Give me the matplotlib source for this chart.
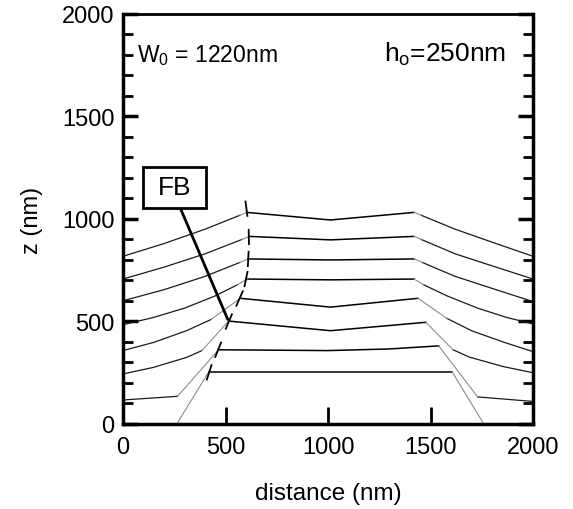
import matplotlib
matplotlib.use("Agg")
import matplotlib.pyplot as plt
from matplotlib.patches import Rectangle
from matplotlib.ticker import MultipleLocator
import numpy as np

plt.rcParams['font.family'] = ['Liberation Sans', 'DejaVu Sans']
plt.rcParams['mathtext.fontset'] = 'custom'
plt.rcParams['mathtext.rm'] = 'Liberation Sans'
plt.rcParams['mathtext.it'] = 'Liberation Sans'

# surface profiles (distance nm, z nm), bottom to top
# each: outer-left (black), top region (black), outer-right (black); gray slopes join them
profiles = [
    # initial trapezoid
    dict(lx=[0, 262], lz=[0, 0],
         tx=[417, 1607], tz=[252, 252],
         rx=[1760, 2000], rz=[0, 0]),
    dict(lx=[0, 266], lz=[117, 135],
         tx=[466, 1000, 1300, 1540], tz=[362, 358, 366, 381],
         rx=[1730, 2000], rz=[132, 110]),
    dict(lx=[0, 148, 311, 385], lz=[244, 276, 325, 358],
         tx=[515, 1012, 1477], tz=[502, 455, 496],
         rx=[1610, 1690, 1855, 2000], rz=[362, 326, 280, 250]),
    dict(lx=[0, 150, 310, 430], lz=[358, 398, 455, 510],
         tx=[572, 1012, 1439], tz=[613, 570, 613],
         rx=[1580, 1700, 1860, 2000], rz=[515, 455, 398, 353]),
    dict(lx=[0, 150, 300, 450, 560], lz=[484, 520, 565, 625, 680],
         tx=[605, 1012, 1420], tz=[707, 703, 707],
         rx=[1465, 1580, 1730, 1870, 2000], rz=[680, 625, 565, 520, 488]),
    dict(lx=[0, 200, 400, 570], lz=[601, 655, 720, 788],
         tx=[611, 1012, 1420], tz=[805, 800, 805],
         rx=[1460, 1620, 1820, 2000], rz=[788, 720, 655, 597]),
    dict(lx=[0, 200, 400, 580], lz=[707, 765, 830, 900],
         tx=[616, 1012, 1420], tz=[915, 898, 915],
         rx=[1455, 1620, 1820, 2000], rz=[900, 830, 765, 707]),
    dict(lx=[0, 200, 400, 570], lz=[818, 880, 950, 1018],
         tx=[605, 1012, 1420], tz=[1032, 995, 1032],
         rx=[1455, 1620, 1820, 2000], rz=[1018, 950, 880, 818]),
]

# front boundary (FB) path through the left kinks
fb_x = [409, 417, 466, 515, 572, 605, 611, 616, 605, 597]
fb_z = [239, 255, 362, 504, 613, 707, 805, 915, 1032, 1089]
fb_dash_z = [252, 362, 500, 612, 707, 805, 912, 1050]
fb_dash_half = 35

fb_box = (96, 1054, 310, 201)  # x, z, width, height
fb_pointer = ([279, 510], [1054, 512])

fig = plt.figure(figsize=(5.73, 5.10), dpi=100)
ax = fig.add_axes([0.2147, 0.1667, 0.7155, 0.804])

for p in profiles:
    ax.plot(p['lx'], p['lz'], color='0.1', lw=0.9)
    ax.plot(p['tx'], p['tz'], color='black', lw=1.1)
    ax.plot(p['rx'], p['rz'], color='0.1', lw=0.9)
    ax.plot([p['lx'][-1], p['tx'][0]], [p['lz'][-1], p['tz'][0]], color='0.55', lw=0.8)
    ax.plot([p['tx'][-1], p['rx'][0]], [p['tz'][-1], p['rz'][0]], color='0.55', lw=0.8)

for zc in fb_dash_z:
    zz = np.array([zc - fb_dash_half, zc + fb_dash_half])
    ax.plot(np.interp(zz, fb_z, fb_x), zz, color='black', lw=1.3)

ax.add_patch(Rectangle(fb_box[:2], fb_box[2], fb_box[3], fc='white', ec='black', lw=2, zorder=5))
ax.text(fb_box[0] + fb_box[2] / 2, fb_box[1] + fb_box[3] / 2, 'FB', fontsize=19,
        ha='center', va='center', zorder=6)
ax.plot(fb_pointer[0], fb_pointer[1], color='black', lw=2)

ax.text(68, 1771, r'W$_0$ = 1220nm', fontsize=16.5, ha='left', va='baseline')
ax.text(1868, 1771, r'h$_\mathrm{o}$=250nm', fontsize=19, ha='right', va='baseline')

ax.set_xlim(0, 2000)
ax.set_ylim(0, 2000)
ax.set_xticks([0, 500, 1000, 1500, 2000])
ax.set_yticks([0, 500, 1000, 1500, 2000])
ax.yaxis.set_minor_locator(MultipleLocator(100))
ax.tick_params(axis='x', direction='in', length=12, width=2, labelsize=17, pad=9, top=False)
ax.tick_params(axis='y', direction='in', length=11, width=2.5, labelsize=17, pad=6, right=True)
ax.tick_params(axis='y', which='minor', direction='in', length=7, width=2, right=True)
for s in ['left', 'bottom', 'right']:
    ax.spines[s].set_linewidth(2.5)
ax.spines['top'].set_linewidth(2)

ax.set_xlabel('distance (nm)', fontsize=17.5, labelpad=17)
ax.set_ylabel('z (nm)', fontsize=17, labelpad=14)

fig.savefig('out.png', dpi=100)
